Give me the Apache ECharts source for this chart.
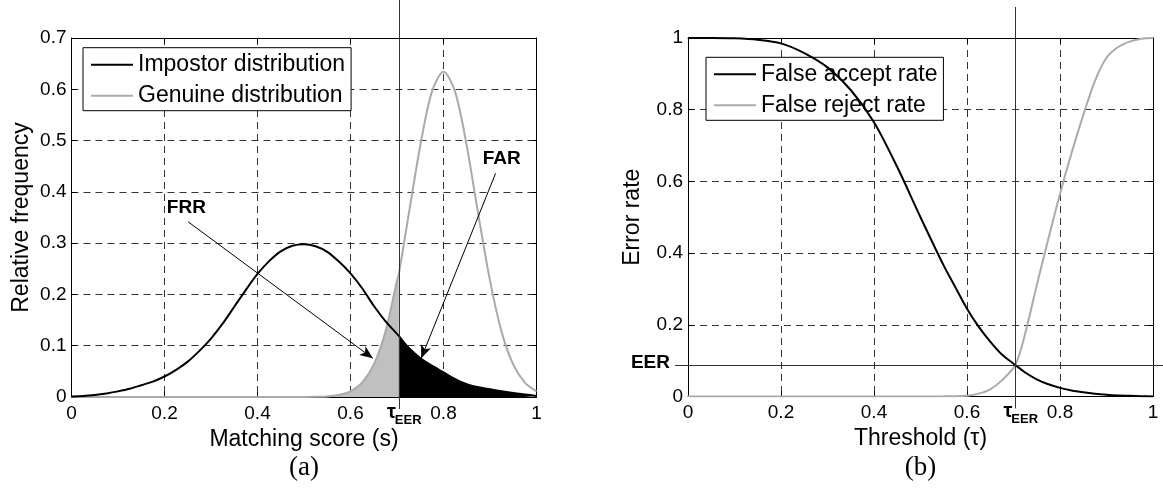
<!DOCTYPE html>
<html><head><meta charset="utf-8">
<script src="https://cdn.jsdelivr.net/npm/echarts@6/dist/echarts.min.js"></script>
<style>html,body{margin:0;padding:0;background:#fff}#c{width:1163px;height:493px}</style>
</head><body><div id="c"></div>
<script>
// ---- data ----
const scores = [0,0.025,0.05,0.075,0.1,0.125,0.15,0.175,0.2,0.225,0.25,0.275,0.3,0.325,0.35,0.375,0.4,0.425,0.45,0.475,0.5,0.525,0.55,0.575,0.6,0.625,0.65,0.675,0.7,0.704,0.725,0.75,0.775,0.8,0.825,0.85,0.875,0.9,0.925,0.95,0.975,1];
const impostor = [0.001,0.002,0.004,0.007,0.011,0.016,0.023,0.030,0.040,0.053,0.069,0.090,0.114,0.143,0.176,0.209,0.240,0.265,0.284,0.295,0.298,0.294,0.283,0.264,0.241,0.212,0.178,0.148,0.123,0.119,0.096,0.076,0.061,0.048,0.035,0.025,0.019,0.015,0.011,0.008,0.005,0.002];
const genuine = [0,0,0,0,0,0,0,0,0,0,0,0,0,0,0,0,0,0,0,0,0,0.0003,0.001,0.004,0.011,0.028,0.063,0.127,0.227,0.240,0.355,0.490,0.595,0.634,0.595,0.490,0.355,0.227,0.127,0.063,0.028,0.011];
const thresholds = [0,0.05,0.1,0.15,0.2,0.25,0.3,0.35,0.4,0.45,0.5,0.55,0.575,0.6,0.625,0.65,0.675,0.704,0.725,0.75,0.775,0.8,0.825,0.85,0.875,0.9,0.925,0.95,0.975,1];
const farValues = [1.0,1.0,0.999,0.995,0.985,0.958,0.918,0.855,0.765,0.64,0.5,0.365,0.305,0.245,0.195,0.153,0.117,0.088,0.067,0.048,0.034,0.024,0.017,0.012,0.008,0.005,0.003,0.002,0.001,0];
const frrValues = [0,0,0,0,0,0,0,0,0,0,0,0.0005,0.001,0.002,0.008,0.02,0.045,0.088,0.175,0.31,0.44,0.565,0.68,0.785,0.88,0.945,0.975,0.99,0.998,1.0];
const tauEER = 0.704;
const eerValue = 0.088;
const leftLegend = ['Impostor distribution','Genuine distribution'];
const rightLegend = ['False accept rate','False reject rate'];
const frrArrow = [[0.251,0.3415],[0.648,0.0754]];
const farArrow = [[0.912,0.436],[0.752,0.0754]];
const frrTextPos = [0.247,0.369];
const farTextPos = [0.925,0.464];

// ---- chart ----
const FF = '"Liberation Sans", Arial, sans-serif';
const pairs = (xs, ys) => xs.map((x,i)=>[x, ys[i]]);
const impostorPts = pairs(scores, impostor);
const genuinePts = pairs(scores, genuine);
const frrFill = genuinePts.filter(p => p[0] <= tauEER);
const farFill = impostorPts.filter(p => p[0] >= tauEER);

const gridLine = {show:true, lineStyle:{color:'#333', type:[7,5], width:1}};
function bottomX(gi, name){
  return {type:'value', gridIndex:gi, min:0, max:1, interval:0.2, position:'bottom',
    name, nameLocation:'middle', nameGap:28, nameTextStyle:{fontSize:23, color:'#000', fontFamily:FF},
    axisLine:{show:true, onZero:false, lineStyle:{color:'#000', width:1}},
    axisTick:{show:true, inside:true, length:5, lineStyle:{color:'#000'}},
    axisLabel:{fontSize:19, color:'#000', margin:7, fontFamily:FF},
    splitLine:gridLine};
}
function topX(gi){
  return {type:'value', gridIndex:gi, min:0, max:1, interval:0.2, position:'top',
    axisLine:{show:true, onZero:false, lineStyle:{color:'#000', width:1}},
    axisTick:{show:true, inside:true, length:5, lineStyle:{color:'#000'}},
    axisLabel:{show:false}, splitLine:{show:false}};
}
function leftY(gi, max, interval, name, gap){
  return {type:'value', gridIndex:gi, min:0, max, interval, position:'left',
    name, nameLocation:'middle', nameGap:gap, nameTextStyle:{fontSize:23, color:'#000', fontFamily:FF},
    axisLine:{show:true, onZero:false, lineStyle:{color:'#000', width:1}},
    axisTick:{show:true, inside:true, length:5, lineStyle:{color:'#000'}},
    axisLabel:{fontSize:19, color:'#000', margin:5, fontFamily:FF},
    splitLine:gridLine};
}
function rightY(gi, max, interval){
  return {type:'value', gridIndex:gi, min:0, max, interval, position:'right',
    axisLine:{show:true, onZero:false, lineStyle:{color:'#000', width:1}},
    axisTick:{show:true, inside:true, length:5, lineStyle:{color:'#000'}},
    axisLabel:{show:false}, splitLine:{show:false}};
}
function legendCfg(left, top, data){
  return {orient:'vertical', left, top, data, icon:'rect', itemWidth:42, itemHeight:2,
    itemGap:5, selectedMode:false, borderColor:'#000', borderWidth:1, borderRadius:0,
    backgroundColor:'#fff', padding:[4,6,2,8],
    textStyle:{fontSize:23, color:'#000', fontFamily:FF, lineHeight:26}};
}
const arrowLine = (seg) => [{coord:seg[0], symbol:'none'}, {coord:seg[1], symbol:'arrow', symbolSize:[8,13]}];

const chart = echarts.init(document.getElementById('c'), null, {renderer:'canvas'});
chart.setOption({
  animation:false,
  backgroundColor:'#fff',
  textStyle:{fontFamily:FF},
  grid:[
    {left:71.5, top:38, width:465, height:359, outerBoundsMode:'none', containLabel:false},
    {left:688, top:38, width:465, height:358.5, outerBoundsMode:'none', containLabel:false}
  ],
  legend:[legendCfg(83, 47.7, leftLegend), legendCfg(706, 57.3, rightLegend)],
  xAxis:[bottomX(0,'Matching score (s)'), topX(0), bottomX(1,'Threshold (\u03c4)'), topX(1)],
  yAxis:[leftY(0,0.7,0.1,'Relative frequency',38), rightY(0,0.7,0.1), leftY(1,1,0.2,'Error rate',44), rightY(1,1,0.2)],
  series:[
    {name:'frrFill', type:'line', xAxisIndex:0, yAxisIndex:0, data:frrFill, smooth:0.3, symbol:'none',
      lineStyle:{width:0}, areaStyle:{color:'#c0c0c0', opacity:1}, itemStyle:{color:'#c0c0c0'}, z:1, silent:true},
    {name:'farFill', type:'line', xAxisIndex:0, yAxisIndex:0, data:farFill, smooth:0.3, symbol:'none',
      lineStyle:{width:0}, areaStyle:{color:'#000', opacity:1}, itemStyle:{color:'#000'}, z:1, silent:true},
    {name:leftLegend[1], type:'line', xAxisIndex:0, yAxisIndex:0, data:genuinePts, smooth:0.3, symbol:'none',
      color:'#aaaaaa', lineStyle:{color:'#aaaaaa', width:2}, itemStyle:{color:'#aaaaaa'}, z:3},
    {name:leftLegend[0], type:'line', xAxisIndex:0, yAxisIndex:0, data:impostorPts, smooth:0.3, symbol:'none',
      color:'#000', lineStyle:{color:'#000', width:2}, itemStyle:{color:'#000'}, z:4,
      markLine:{silent:true, animation:false, label:{show:false}, lineStyle:{color:'#000', width:1, type:'solid'},
        data:[arrowLine(frrArrow), arrowLine(farArrow)]}},
    {name:rightLegend[1], type:'line', xAxisIndex:2, yAxisIndex:2, data:pairs(thresholds, frrValues), smooth:0.3, symbol:'none',
      color:'#aaaaaa', lineStyle:{color:'#aaaaaa', width:2}, itemStyle:{color:'#aaaaaa'}, z:3},
    {name:rightLegend[0], type:'line', xAxisIndex:2, yAxisIndex:2, data:pairs(thresholds, farValues), smooth:0.3, symbol:'none',
      color:'#000', lineStyle:{color:'#000', width:2}, itemStyle:{color:'#000'}, z:4}
  ]
});

// annotations placed through the axes' own scales
const P0 = (x,y) => chart.convertToPixel({xAxisIndex:0, yAxisIndex:0}, [x,y]);
const P1 = (x,y) => chart.convertToPixel({xAxisIndex:2, yAxisIndex:2}, [x,y]);
const tL = P0(tauEER, 0), tR = P1(tauEER, 0), eer = P1(0, eerValue);
const base0 = P0(0,0), end0 = P0(1,0), base1 = P1(0,0), end1 = P1(1,0);
const frrT = P0(frrTextPos[0], frrTextPos[1]), farT = P0(farTextPos[0], farTextPos[1]);
const g = [];
const vline = (x, y1, y2) => ({type:'line', shape:{x1:Math.round(x)+0.5, y1, x2:Math.round(x)+0.5, y2}, style:{stroke:'#333', lineWidth:1}, z:50});
g.push(vline(tL[0], 0, tL[1]+12));
g.push(vline(tR[0], 7, tR[1]+12));
g.push({type:'line', shape:{x1:base1[0]-13, y1:Math.round(eer[1])+0.5, x2:1163, y2:Math.round(eer[1])+0.5}, style:{stroke:'#333', lineWidth:1}, z:50});
function tauLabel(p){
  g.push({type:'text', x:p[0]-3, y:p[1]+15, style:{text:'\u03c4', font:'bold 20px '+FF, fill:'#000', align:'right', verticalAlign:'middle'}, z:60});
  g.push({type:'text', x:p[0]-4, y:p[1]+23, style:{text:'EER', font:'bold 13px '+FF, fill:'#000', align:'left', verticalAlign:'middle'}, z:60});
}
tauLabel(tL); tauLabel(tR);
g.push({type:'text', x:base1[0]-18, y:eer[1]-2, style:{text:'EER', font:'bold 19px '+FF, fill:'#000', align:'right', verticalAlign:'middle'}, z:60});
g.push({type:'text', x:frrT[0], y:frrT[1], style:{text:'FRR', font:'bold 19px '+FF, fill:'#000', align:'center', verticalAlign:'middle'}, z:60});
g.push({type:'text', x:farT[0], y:farT[1], style:{text:'FAR', font:'bold 19px '+FF, fill:'#000', align:'center', verticalAlign:'middle'}, z:60});
g.push({type:'text', x:(base0[0]+end0[0])/2, y:base0[1]+71, style:{text:'(a)', font:'27px "Liberation Serif", "Times New Roman", serif', fill:'#000', align:'center', verticalAlign:'middle'}, z:60});
g.push({type:'text', x:(base1[0]+end1[0])/2, y:base1[1]+71, style:{text:'(b)', font:'27px "Liberation Serif", "Times New Roman", serif', fill:'#000', align:'center', verticalAlign:'middle'}, z:60});
chart.setOption({graphic:g});
</script></body></html>
